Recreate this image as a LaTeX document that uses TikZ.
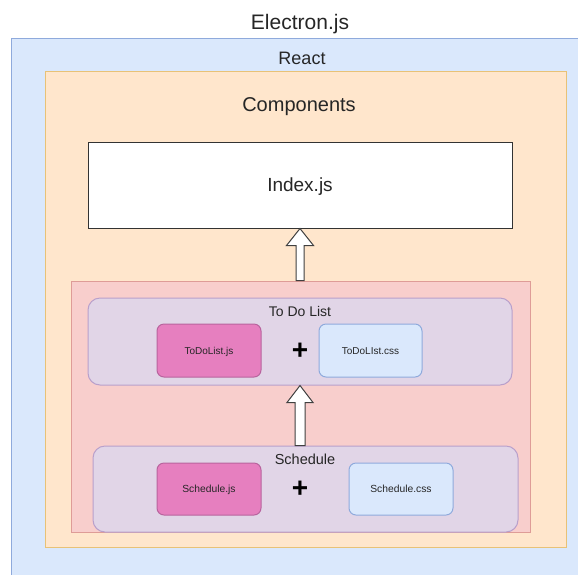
\documentclass[tikz,border=0pt]{standalone}
\usepackage{fontspec}
\setmainfont{Liberation Sans}
\definecolor{bluefill}{HTML}{DAE8FC}
\definecolor{bluedraw}{HTML}{8FAADC}
\definecolor{orangefill}{HTML}{FFE6CC}
\definecolor{orangedraw}{HTML}{E8C277}
\definecolor{redfill}{HTML}{F8CECC}
\definecolor{reddraw}{HTML}{DE9C97}
\definecolor{purplefill}{HTML}{E1D5E7}
\definecolor{purpledraw}{HTML}{B9A0CB}
\definecolor{pinkfill}{HTML}{E67FBF}
\definecolor{pinkdraw}{HTML}{B8649E}
\definecolor{txt}{HTML}{262626}
\tikzset{
  fs/.style={font=\fontsize{#1}{#1}\selectfont, text height={#1*0.716pt}, text depth=0pt},
  box/.style={draw, line width=1pt, inner sep=0pt, text=txt},
  lbl/.style={inner sep=0pt, text=txt},
  blockarrow/.style={draw=black!75, fill=white, line width=1pt, line join=miter},
}
\begin{document}
\begin{tikzpicture}[x=1pt, y=-1pt]
\useasboundingbox (0,0) rectangle (578,574);
\begin{scope}
\clip (0,0) rectangle (578,574);
% containers
\node[box, draw=bluedraw, fill=bluefill, minimum width=579pt, minimum height=551pt] (electron) at (300.5,314) {};
\node[box, draw=orangedraw, fill=orangefill, minimum width=521pt, minimum height=476pt] (react) at (305.5,309) {};
\node[box, draw=black!80, fill=white, minimum width=424pt, minimum height=86pt, fs=19] (index) at (300,185) {Index.js};
\node[box, draw=reddraw, fill=redfill, minimum width=459pt, minimum height=251pt] (comps) at (300.5,406.5) {};
\node[box, draw=purpledraw, fill=purplefill, rounded corners=12pt, minimum width=424pt, minimum height=87pt] (todo) at (300,341.5) {};
\node[box, draw=purpledraw, fill=purplefill, rounded corners=12pt, minimum width=425pt, minimum height=86pt] (sched) at (305.5,489) {};
% titles
\node[lbl, fs=21] (electronlbl) at (300,22) {Electron.js};
\node[lbl, fs=18] (reactlbl) at (302,58) {React};
\node[lbl, fs=20] (compslbl) at (299,104) {Components};
\node[lbl, fs=14] (todolbl) at (300,311.5) {To Do List};
\node[lbl, fs=14.5] (schedlbl) at (305,459) {Schedule};
% files
\node[box, draw=pinkdraw, fill=pinkfill, rounded corners=7pt, minimum width=104pt, minimum height=53pt, fs=10] (todojs) at (209,350.5) {ToDoList.js};
\node[box, draw=bluedraw, fill=bluefill, rounded corners=7pt, minimum width=103pt, minimum height=53pt, fs=10] (todocss) at (370.5,350.5) {ToDoLIst.css};
\node[box, draw=pinkdraw, fill=pinkfill, rounded corners=7pt, minimum width=104pt, minimum height=52pt, fs=10.3] (schedjs) at (209,489) {Schedule.js};
\node[box, draw=bluedraw, fill=bluefill, rounded corners=7pt, minimum width=104pt, minimum height=52pt, fs=10.3] (schedcss) at (401,489) {Schedule.css};
\node[inner sep=0pt, font=\fontsize{28}{28}\selectfont\bfseries] (plus1) at (300,351) {+};
\node[inner sep=0pt, font=\fontsize{28}{28}\selectfont\bfseries] (plus2) at (300,489) {+};
% block arrows
\draw[blockarrow] (index.south) -- ++(13.5,17) -- ++(-9.5,0) -- ++(0,35) -- ++(-8,0) -- ++(0,-35) -- ++(-9.5,0) -- cycle;
\draw[blockarrow] (todo.south) -- ++(13,17) -- ++(-8,0) -- ++(0,43) -- ++(-10,0) -- ++(0,-43) -- ++(-8,0) -- cycle;
\end{scope}
\end{tikzpicture}
\end{document}
